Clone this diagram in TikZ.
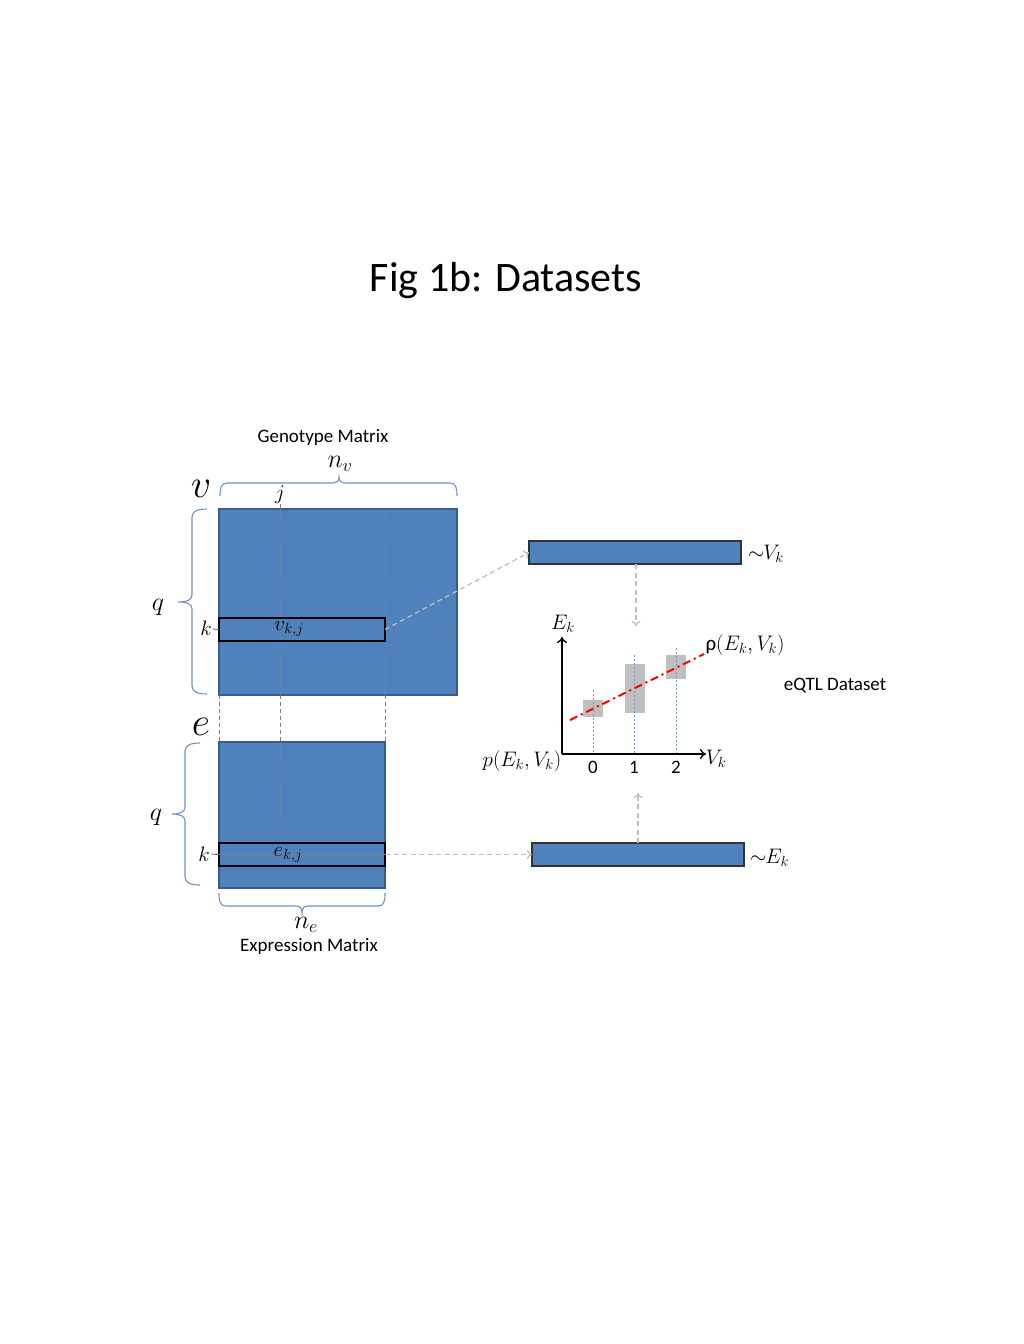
\documentclass[tikz,border=0pt]{standalone}
\usepackage{fix-cm}
\usepackage{fontspec}
\setmainfont{Carlito}
\usetikzlibrary{arrows.meta,calc}
\definecolor{mblue}{HTML}{4F81BD}
\definecolor{mborder}{HTML}{385D8A}
\definecolor{bracec}{HTML}{6F93C8}
\definecolor{arrgray}{HTML}{BFBFBF}
\definecolor{boxgray}{HTML}{BFBFBF}
\tikzset{
  mat/.style={draw=mborder, fill=mblue, line width=1.3pt, inner sep=0, outer sep=0},
  rowbox/.style={draw=black, line width=1.1pt, inner sep=0, outer sep=0},
  bar/.style={draw=black!80, fill=mblue, line width=1.1pt, inner sep=0, outer sep=0, minimum width=212, minimum height=23},
  lbl/.style={inner sep=0, font=\fontsize{19}{23}\selectfont},
  mlbl/.style={inner sep=0, font=\fontsize{21}{25}\selectfont},
  biglbl/.style={inner sep=0, font=\fontsize{40}{46}\selectfont},
  midlbl/.style={inner sep=0, font=\fontsize{26}{30}\selectfont},
  cbrace/.style={draw=bracec, line width=1.1pt},
  garrow/.style={draw=arrgray, line width=1.3pt, dash pattern=on 5pt off 3.5pt, -{To[length=5pt,width=9pt]}},
  gconn/.style={draw=black!50, line width=0.8pt, dash pattern=on 4pt off 3pt},
  faint/.style={draw=black!45, opacity=0.45, line width=0.8pt, dash pattern=on 4pt off 3pt},
  bdot/.style={draw=mblue!80, line width=0.8pt, dash pattern=on 2pt off 2pt},
  gbox/.style={fill=boxgray, draw=none},
  axis/.style={draw=black, line width=1.4pt, -{To[length=6pt,width=10pt]}},
  redline/.style={draw=red, line width=2pt, dash pattern=on 8pt off 4pt on 2pt off 4pt}
}
\begin{document}
\begin{tikzpicture}[x=1pt,y=-1pt]
\path[use as bounding box, fill=white] (0,0) rectangle (1024,1344);

% title
\node[inner sep=0, font=\fontsize{42}{50}\selectfont] (title) at (506,281) {Fig 1b: Datasets};

% matrices
\node[mat, minimum width=238, minimum height=186] (G) at (338,602) {};
\node[mat, minimum width=166, minimum height=146] (E) at (302,815) {};

% faint lines inside matrices
\coordinate (x280t) at (280,509);
\coordinate (x280b) at (280,695);
\coordinate (x385t) at (385,509);
\coordinate (x385b) at (385,695);
\draw[faint] (x280t) -- (x280b);
\draw[faint] (x385t) -- (x385b);
\coordinate (ex280t) at (280,742);
\coordinate (ex280b) at (280,843);
\draw[faint] (ex280t) -- (ex280b);
\coordinate (vkl) at (214,629.5);
\coordinate (vkr) at (457,629.5);
\draw[faint] (vkl) -- (vkr);

% rows
\node[rowbox, minimum width=166, minimum height=23] (vrow) at (302,629.5) {};
\node[rowbox, minimum width=166, minimum height=23] (erow) at (302,854.5) {};
\draw[draw=black!50, line width=0.8pt] (214,854.5) -- (erow.east);
\node[mlbl] at (289,629) {$v_{k,j}$};
\node[mlbl] at (288,855) {$e_{k,j}$};

% connectors between matrices
\coordinate (c219a) at (219,695);
\coordinate (c219b) at (219,742);
\coordinate (c280a) at (280,695);
\coordinate (c280b) at (280,742);
\coordinate (c385a) at (385,695);
\coordinate (c385b) at (385,742);
\draw[gconn] (c219a) -- (c219b);
\draw[gconn] (c280a) -- (c280b);
\draw[gconn] (c385a) -- (c385b);

% k labels
\node[mlbl] (kv) at (206,628) {$k$};
\draw[black!60, line width=0.8pt] (kv.east) ++(1,1) -- (vrow.west);
\node[mlbl] (ke) at (204,854) {$k$};
\draw[black!60, line width=0.8pt] (ke.east) ++(1,0) -- (erow.west);

% j label
\node[mlbl] (j) at (280,495) {$j$};
\draw[black!50, line width=0.8pt] (280,504) -- (x280t);

% braces (Office style)
\draw[cbrace] (220,496) .. controls (220,488) and (221,483) .. (227,483) -- (332,483)
  .. controls (337,483) and (339,481) .. (339,477)
  .. controls (339,481) and (341,483) .. (346,483) -- (450,483)
  .. controls (456,483) and (457,488) .. (457,496);
\draw[cbrace] (207,509) .. controls (198,509) and (192,511) .. (192,517) -- (192,595)
  .. controls (192,600) and (187,602) .. (178,602)
  .. controls (187,602) and (192,604) .. (192,609) -- (192,686)
  .. controls (192,692) and (198,694) .. (207,694);
\draw[cbrace] (200,743) .. controls (191,743) and (185,745) .. (185,751) -- (185,807)
  .. controls (185,812) and (180,814) .. (172,814)
  .. controls (180,814) and (185,816) .. (185,821) -- (185,877)
  .. controls (185,883) and (191,885) .. (200,885);
\draw[cbrace] (219,893) .. controls (219,901) and (220,906) .. (226,906) -- (296,906)
  .. controls (300,906) and (302,908) .. (302,913)
  .. controls (302,908) and (304,906) .. (308,906) -- (378,906)
  .. controls (384,906) and (385,901) .. (385,893);

% matrix labels
\node[lbl] (gm) at (323,437) {Genotype Matrix};
\node[midlbl] (nv) at (340,464) {$n_v$};
\node[biglbl] (vv) at (201,489) {$v$};
\node[midlbl] (qv) at (158,607) {$q$};
\node[biglbl] (ee) at (201,727) {$e$};
\node[midlbl] (qe) at (156,817) {$q$};
\node[midlbl] (ne) at (306,925) {$n_e$};
\node[lbl] (em) at (309,946) {Expression Matrix};

% bars
\node[bar] (Vbar) at (635,552.5) {};
\node[bar] (Ebar) at (638,854.5) {};
\node[mlbl, anchor=west] (Vlab) at (748,554) {$\sim\!\!V_k$};
\node[mlbl, anchor=west] (Elab) at (750,858) {$\sim\!\!E_k$};

% arrows to bars
\draw[garrow] (vrow.east) -- (Vbar.west);
\draw[garrow] (erow.east) -- (Ebar.west);
\coordinate (plotTop) at (636,626);
\coordinate (plotBot) at (638,793);
\draw[garrow] (Vbar.south -| plotTop) -- (plotTop);
\draw[garrow] (Ebar.north -| plotBot) -- (plotBot);

% plot
\coordinate (O) at (562,754);
\coordinate (Ytop) at (562,637);
\coordinate (Xend) at (706,754);
\draw[gbox] (583,700) rectangle (603,717);
\draw[gbox] (625,664) rectangle (645,713);
\draw[gbox] (666,655) rectangle (686,679);
\draw[bdot] (593,690) -- (593,754);
\draw[bdot] (634,655) -- (634,754);
\draw[bdot] (676,648) -- (676,754);
\draw[redline] (570,720) -- (704,654);
\draw[axis] (O) -- (Ytop);
\draw[axis] (O) -- (Xend);
\node[mlbl] (Ek) at (563,624) {$E_k$};
\node[mlbl] (Vk) at (716,759) {$V_k$};
\node[lbl] (t0) at (593,767) {0};
\node[lbl] (t1) at (634,767) {1};
\node[lbl] (t2) at (676,767) {2};
\node[mlbl] (rho) at (745,645) {ρ$(E_k,V_k)$};
\node[mlbl] (pp) at (522,761) {$p(E_k,V_k)$};
\node[lbl] (eqtl) at (835,686) {eQTL Dataset};
\end{tikzpicture}
\end{document}
